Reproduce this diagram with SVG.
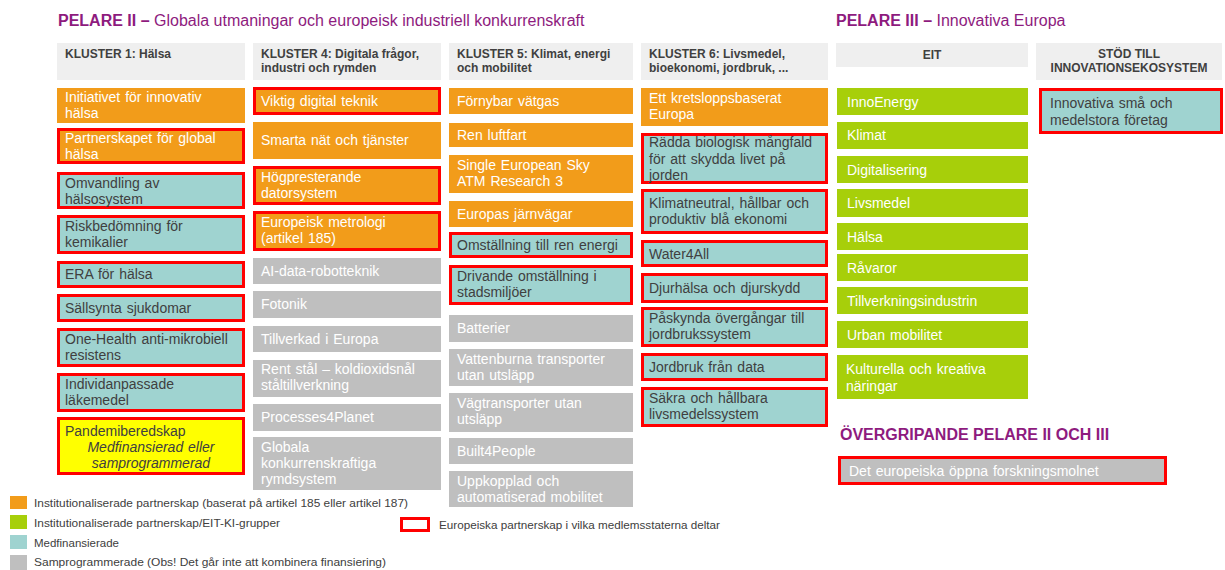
<svg xmlns="http://www.w3.org/2000/svg" width="1225" height="570" viewBox="0 0 1225 570">
<style>
text{font-family:"Liberation Sans",Arial,sans-serif}
.hd{fill:#efefef}
.o{fill:#f29c1a}
.g{fill:#bfbfbf}
.t{fill:#9fd3d0}
.gr{fill:#a7cf0a}
.y{fill:#ffff00}
.r{stroke:#ff0000;stroke-width:3}
.w{fill:#ffffff;font-size:14px;word-spacing:1px}
.d{fill:#404040;font-size:14px;word-spacing:1px}
.h{fill:#404040;font-size:12px;font-weight:bold}
.ti{fill:#8e1b7e;font-size:16px}
.lg{fill:#404040;font-size:11px}
</style>
<rect width="1225" height="570" fill="#ffffff"/>
<g id="titles">
<text class="ti" x="58" y="26"><tspan font-weight="bold">PELARE II –</tspan> Globala utmaningar och europeisk industriell konkurrenskraft</text>
<text class="ti" x="836" y="26"><tspan font-weight="bold">PELARE III –</tspan> Innovativa Europa</text>
<text class="ti" x="840" y="440" font-weight="bold">ÖVERGRIPANDE PELARE II OCH III</text>
</g>
<g id="headers">
<rect class="hd" x="57" y="43" width="188" height="37"/>
<text class="h" x="65" y="58">KLUSTER 1: Hälsa</text>
<rect class="hd" x="253" y="43" width="188" height="37"/>
<text class="h" x="261" y="58">KLUSTER 4: Digitala frågor,<tspan x="261" y="72">industri och rymden</tspan></text>
<rect class="hd" x="449" y="43" width="184" height="37"/>
<text class="h" x="457" y="58">KLUSTER 5: Klimat, energi<tspan x="457" y="72">och mobilitet</tspan></text>
<rect class="hd" x="641" y="43" width="187" height="37"/>
<text class="h" x="649" y="58">KLUSTER 6: Livsmedel,<tspan x="649" y="72">bioekonomi, jordbruk, ...</tspan></text>
<rect class="hd" x="836" y="43" width="192" height="24"/>
<text class="h" x="932" y="59" text-anchor="middle">EIT</text>
<rect class="hd" x="1036" y="43" width="186" height="37"/>
<text class="h" x="1129" y="58" text-anchor="middle">STÖD TILL<tspan x="1129" y="72">INNOVATIONSEKOSYSTEM</tspan></text>
</g>
<g id="c1">
<g id="c1-1"><rect class="o" x="57" y="88" width="188" height="35"/><text class="w" x="65" y="102">Initiativet för innovativ<tspan x="65" y="118">hälsa</tspan></text></g>
<g id="c1-2"><rect class="o r" x="58.5" y="129.5" width="185" height="33"/><text class="w" x="65" y="143">Partnerskapet för global<tspan x="65" y="159">hälsa</tspan></text></g>
<g id="c1-3"><rect class="t r" x="58.5" y="173.5" width="185" height="34"/><text class="d" x="65" y="188">Omvandling av<tspan x="65" y="204">hälsosystem</tspan></text></g>
<g id="c1-4"><rect class="t r" x="58.5" y="216.5" width="185" height="36"/><text class="d" x="65" y="231">Riskbedömning för<tspan x="65" y="247">kemikalier</tspan></text></g>
<g id="c1-5"><rect class="t r" x="58.5" y="262.5" width="185" height="24"/><text class="d" x="65" y="279">ERA för hälsa</text></g>
<g id="c1-6"><rect class="t r" x="58.5" y="295.5" width="185" height="25"/><text class="d" x="65" y="313">Sällsynta sjukdomar</text></g>
<g id="c1-7"><rect class="t r" x="58.5" y="329.5" width="185" height="36"/><text class="d" x="65" y="344">One-Health anti-mikrobiell<tspan x="65" y="360">resistens</tspan></text></g>
<g id="c1-8"><rect class="t r" x="58.5" y="374.5" width="185" height="36"/><text class="d" x="65" y="389">Individanpassade<tspan x="65" y="405">läkemedel</tspan></text></g>
<g id="c1-9"><rect class="y r" x="58.5" y="418.5" width="185" height="55"/><text class="d" x="65" y="436" fill="#333333">Pandemiberedskap</text><text class="d" x="151" y="452" text-anchor="middle" font-style="italic" fill="#333333">Medfinansierad eller<tspan x="151" y="468">samprogrammerad</tspan></text></g>
</g>
<g id="c2">
<g id="c2-1"><rect class="o r" x="254.5" y="88.5" width="185" height="25"/><text class="w" x="261" y="106">Viktig digital teknik</text></g>
<g id="c2-2"><rect class="o" x="253" y="122" width="188" height="37"/><text class="w" x="261" y="145">Smarta nät och tjänster</text></g>
<g id="c2-3"><rect class="o r" x="254.5" y="167.5" width="185" height="36"/><text class="w" x="261" y="182">Högpresterande<tspan x="261" y="198">datorsystem</tspan></text></g>
<g id="c2-4"><rect class="o r" x="254.5" y="212.5" width="185" height="37"/><text class="w" x="261" y="227">Europeisk metrologi<tspan x="261" y="243">(artikel 185)</tspan></text></g>
<g id="c2-5"><rect class="g" x="253" y="258" width="188" height="26"/><text class="w" x="261" y="276">AI-data-robotteknik</text></g>
<g id="c2-6"><rect class="g" x="253" y="291" width="188" height="27"/><text class="w" x="261" y="309">Fotonik</text></g>
<g id="c2-7"><rect class="g" x="253" y="326" width="188" height="26"/><text class="w" x="261" y="344">Tillverkad i Europa</text></g>
<g id="c2-8"><rect class="g" x="253" y="360" width="188" height="37"/><text class="w" x="261" y="374">Rent stål – koldioxidsnål<tspan x="261" y="390">ståltillverkning</tspan></text></g>
<g id="c2-9"><rect class="g" x="253" y="404" width="188" height="27"/><text class="w" x="261" y="422">Processes4Planet</text></g>
<g id="c2-10"><rect class="g" x="253" y="437" width="188" height="53"/><text class="w" x="261" y="452">Globala<tspan x="261" y="468">konkurrenskraftiga</tspan><tspan x="261" y="484">rymdsystem</tspan></text></g>
</g>
<g id="c3">
<g id="c3-1"><rect class="o" x="449" y="88" width="184" height="26"/><text class="w" x="457" y="106">Förnybar vätgas</text></g>
<g id="c3-2"><rect class="o" x="449" y="123" width="184" height="24"/><text class="w" x="457" y="140">Ren luftfart</text></g>
<g id="c3-3"><rect class="o" x="449" y="155" width="184" height="38"/><text class="w" x="457" y="170">Single European Sky<tspan x="457" y="186">ATM Research 3</tspan></text></g>
<g id="c3-4"><rect class="o" x="449" y="201" width="184" height="26"/><text class="w" x="457" y="219">Europas järnvägar</text></g>
<g id="c3-5"><rect class="t r" x="450.5" y="233.5" width="181" height="23"/><text class="d" x="457" y="250">Omställning till ren energi</text></g>
<g id="c3-6"><rect class="t r" x="450.5" y="266.5" width="181" height="37"/><text class="d" x="457" y="281">Drivande omställning i<tspan x="457" y="297">stadsmiljöer</tspan></text></g>
<g id="c3-7"><rect class="g" x="449" y="315" width="184" height="27"/><text class="w" x="457" y="333">Batterier</text></g>
<g id="c3-8"><rect class="g" x="449" y="349" width="184" height="37"/><text class="w" x="457" y="364">Vattenburna transporter<tspan x="457" y="380">utan utsläpp</tspan></text></g>
<g id="c3-9"><rect class="g" x="449" y="393" width="184" height="39"/><text class="w" x="457" y="408">Vägtransporter utan<tspan x="457" y="424">utsläpp</tspan></text></g>
<g id="c3-10"><rect class="g" x="449" y="438" width="184" height="26"/><text class="w" x="457" y="456">Built4People</text></g>
<g id="c3-11"><rect class="g" x="449" y="471" width="184" height="36"/><text class="w" x="457" y="486">Uppkopplad och<tspan x="457" y="502">automatiserad mobilitet</tspan></text></g>
</g>
<g id="c4">
<g id="c4-1"><rect class="o" x="641" y="88" width="187" height="38"/><text class="w" x="649" y="103">Ett kretsloppsbaserat<tspan x="649" y="119">Europa</tspan></text></g>
<g id="c4-2"><rect class="t r" x="642.5" y="134.5" width="184" height="48"/><text class="d" x="649" y="147">Rädda biologisk mångfald<tspan x="649" y="164">för att skydda livet på</tspan><tspan x="649" y="180">jorden</tspan></text></g>
<g id="c4-3"><rect class="t r" x="642.5" y="190.5" width="184" height="42"/><text class="d" x="649" y="208">Klimatneutral, hållbar och<tspan x="649" y="224">produktiv blå ekonomi</tspan></text></g>
<g id="c4-4"><rect class="t r" x="642.5" y="241.5" width="184" height="24"/><text class="d" x="649" y="259">Water4All</text></g>
<g id="c4-5"><rect class="t r" x="642.5" y="274.5" width="184" height="27"/><text class="d" x="649" y="293">Djurhälsa och djurskydd</text></g>
<g id="c4-6"><rect class="t r" x="642.5" y="308.5" width="184" height="37"/><text class="d" x="649" y="323">Påskynda övergångar till<tspan x="649" y="339">jordbrukssystem</tspan></text></g>
<g id="c4-7"><rect class="t r" x="642.5" y="354.5" width="184" height="25"/><text class="d" x="649" y="372">Jordbruk från data</text></g>
<g id="c4-8"><rect class="t r" x="642.5" y="388.5" width="184" height="37"/><text class="d" x="649" y="403">Säkra och hållbara<tspan x="649" y="419">livsmedelssystem</tspan></text></g>
</g>
<g id="eit">
<g id="e1"><rect class="gr" x="837" y="88" width="191" height="27"/><text class="w" x="847" y="107">InnoEnergy</text></g>
<g id="e2"><rect class="gr" x="837" y="122" width="191" height="27"/><text class="w" x="847" y="140">Klimat</text></g>
<g id="e3"><rect class="gr" x="837" y="156" width="191" height="27"/><text class="w" x="847" y="175">Digitalisering</text></g>
<g id="e4"><rect class="gr" x="837" y="189" width="191" height="28"/><text class="w" x="847" y="208">Livsmedel</text></g>
<g id="e5"><rect class="gr" x="837" y="223" width="191" height="27"/><text class="w" x="847" y="242">Hälsa</text></g>
<g id="e6"><rect class="gr" x="837" y="254" width="191" height="27"/><text class="w" x="847" y="273">Råvaror</text></g>
<g id="e7"><rect class="gr" x="837" y="287" width="191" height="27"/><text class="w" x="847" y="306">Tillverkningsindustrin</text></g>
<g id="e8"><rect class="gr" x="837" y="321" width="191" height="27"/><text class="w" x="847" y="340">Urban mobilitet</text></g>
<g id="e9"><rect class="gr" x="837" y="355" width="191" height="44"/><text class="w" x="846" y="374">Kulturella och kreativa<tspan x="846" y="391">näringar</tspan></text></g>
</g>
<g id="stod">
<rect class="t r" x="1040.5" y="89.5" width="181" height="43"/><text class="d" x="1050" y="108">Innovativa små och<tspan x="1050" y="125">medelstora företag</tspan></text>
</g>
<g id="eosc">
<rect class="g r" x="839.5" y="457.5" width="326" height="26"/><text class="w" x="849" y="476">Det europeiska öppna forskningsmolnet</text>
</g>
<g id="legend">
<rect class="o" x="10" y="496" width="17" height="13"/><text class="lg" x="34" y="507" textLength="374" lengthAdjust="spacingAndGlyphs">Institutionaliserade partnerskap (baserat på artikel 185 eller artikel 187)</text>
<rect class="gr" x="10" y="515" width="17" height="14"/><text class="lg" x="34" y="527" textLength="246" lengthAdjust="spacingAndGlyphs">Institutionaliserade partnerskap/EIT-KI-grupper</text>
<rect class="t" x="10" y="535" width="17" height="14"/><text class="lg" x="34" y="547" textLength="85" lengthAdjust="spacingAndGlyphs">Medfinansierade</text>
<rect class="g" x="10" y="555" width="17" height="15"/><text class="lg" x="34" y="566" textLength="352" lengthAdjust="spacingAndGlyphs">Samprogrammerade (Obs! Det går inte att kombinera finansiering)</text>
<rect x="401.5" y="518.5" width="27" height="12" fill="#ffffff" class="r"/><text class="lg" x="439" y="529" textLength="281" lengthAdjust="spacingAndGlyphs">Europeiska partnerskap i vilka medlemsstaterna deltar</text>
</g>
</svg>
